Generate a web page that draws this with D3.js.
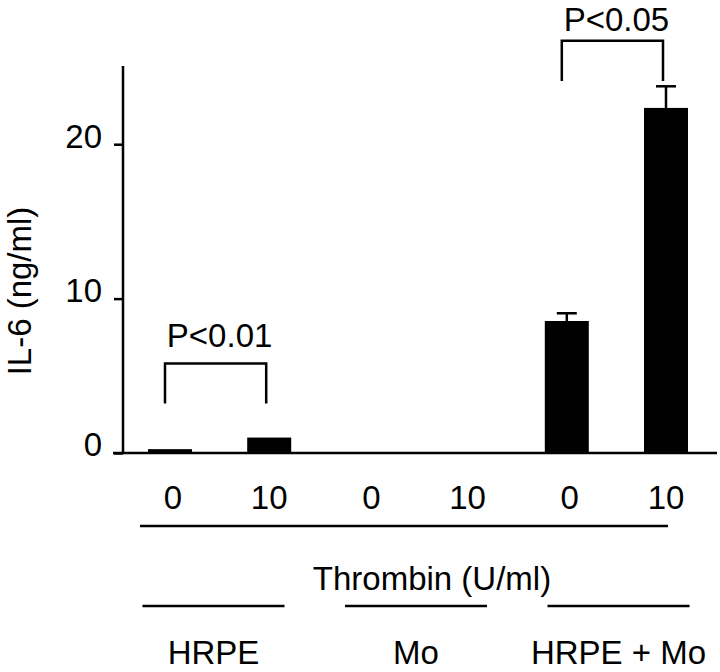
<!DOCTYPE html>
<html>
<head>
<meta charset="utf-8">
<script src="https://cdn.jsdelivr.net/npm/d3@7"></script>
<style>
  html, body { margin: 0; padding: 0; background: #fff; }
  text { font-family: "Liberation Sans", Arial, Helvetica, sans-serif; fill: #000; }
</style>
</head>
<body>
<svg id="chart" width="720" height="672"></svg>
<script>
// ---- data ----
const categories = ["HRPE-0", "HRPE-10", "Mo-0", "Mo-10", "HRPEMo-0", "HRPEMo-10"];
const doseLabels = ["0", "10", "0", "10", "0", "10"];
const values = [0.25, 1.0, 0, 0, 8.55, 22.35];
const errors = [0, 0, 0, 0, 0.5, 1.4];
const yTicks = [0, 10, 20];
const groupNames = ["HRPE", "Mo", "HRPE + Mo"];
const sigPairs = [[0, 1], [4, 5]];
const sigLabels = ["P<0.01", "P<0.05"];
const sigLevels = [5.8, 26.7];
const yTitle = "IL-6 (ng/ml)";
const xTitle = "Thrombin (U/ml)";

// ---- layout ----
const svg = d3.select("#chart");
const FS = 33;
const SW = 2.5;
const y = d3.scaleLinear().domain([0, 25]).range([453, 67]);
const x = d3.scalePoint().domain(categories).range([170, 666]);
const g = d3.scalePoint().domain(groupNames).range([213.5, 618.5]);
const barW = 44;
const axisX = 123;

// y axis
const yAxis = d3.axisLeft(y).tickValues(yTicks).tickSize(9).tickSizeOuter(0).tickPadding(12)
  .tickFormat(d3.format("d"));
const gy = svg.append("g").attr("transform", `translate(${axisX},0)`).call(yAxis);
gy.select(".domain").attr("stroke", "#000").attr("stroke-width", SW)
  .attr("d", `M0,${y(0)}V66`);
gy.selectAll(".tick line").attr("stroke", "#000").attr("stroke-width", SW);
gy.selectAll(".tick text").attr("font-size", FS).attr("fill", "#000")
  .attr("font-family", "Liberation Sans, Arial, sans-serif").attr("dy", "0.09em");

// baseline
svg.append("line").attr("x1", 113).attr("x2", 717).attr("y1", y(0)).attr("y2", y(0))
  .attr("stroke", "#000").attr("stroke-width", SW);

// y title
svg.append("text").attr("transform", `translate(31,291) rotate(-90)`)
  .attr("text-anchor", "middle").attr("font-size", FS).text(yTitle);

// bars
svg.append("g").selectAll("rect").data(values).join("rect")
  .attr("x", (d, i) => x(categories[i]) - barW / 2)
  .attr("width", barW)
  .attr("y", d => y(d))
  .attr("height", d => y(0) - y(d))
  .attr("fill", "#000");

// error bars
const eg = svg.append("g").attr("stroke", "#000").attr("stroke-width", SW);
values.forEach((v, i) => {
  if (errors[i] <= 0) return;
  const cx = x(categories[i]);
  eg.append("line").attr("x1", cx).attr("x2", cx).attr("y1", y(v)).attr("y2", y(v + errors[i]));
  eg.append("line").attr("x1", cx - 10).attr("x2", cx + 10).attr("y1", y(v + errors[i])).attr("y2", y(v + errors[i]));
});

// significance brackets
sigPairs.forEach((p, k) => {
  const x1 = x(categories[p[0]]) - 5, x2 = x(categories[p[1]]) - 3;
  const top = y(sigLevels[k]);
  const bottom = y(sigLevels[k] - 2.6);
  svg.append("path").attr("d", `M${x1},${bottom}V${top}H${x2}V${bottom}`)
    .attr("fill", "none").attr("stroke", "#000").attr("stroke-width", SW);
  svg.append("text").attr("x", (x1 + x2) / 2 + 4).attr("y", Math.max(top - 16, 31))
    .attr("text-anchor", "middle").attr("font-size", FS).text(sigLabels[k]);
});

// dose labels
svg.append("g").selectAll("text").data(doseLabels).join("text")
  .attr("x", (d, i) => x(categories[i]) + (i % 2 === 0 ? 3 : 0))
  .attr("y", 509).attr("text-anchor", "middle").attr("font-size", FS).text(d => d);

// thrombin underline
svg.append("line").attr("x1", 140).attr("x2", 668).attr("y1", 526).attr("y2", 526)
  .attr("stroke", "#000").attr("stroke-width", SW);

svg.append("text").attr("x", 432).attr("y", 590).attr("text-anchor", "middle")
  .attr("font-size", FS).text(xTitle);

// group lines and labels
groupNames.forEach((name) => {
  const cx = g(name);
  svg.append("line").attr("x1", cx - 71).attr("x2", cx + 71).attr("y1", 606).attr("y2", 606)
    .attr("stroke", "#000").attr("stroke-width", SW);
  svg.append("text").attr("x", cx).attr("y", 664).attr("text-anchor", "middle")
    .attr("font-size", FS).text(name);
});
</script>
</body>
</html>
